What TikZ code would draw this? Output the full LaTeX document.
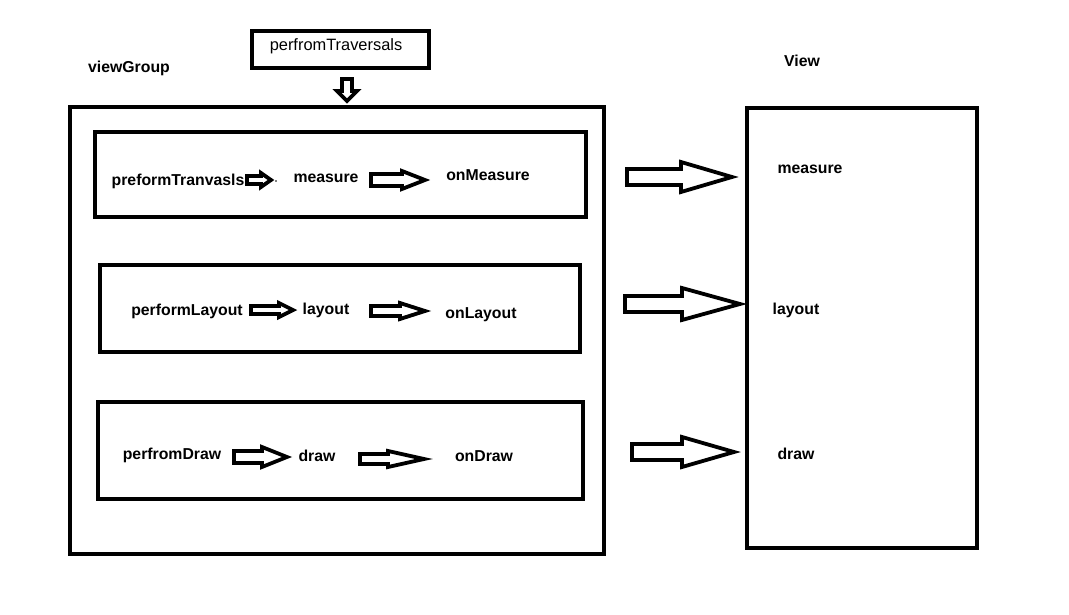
\documentclass[tikz,border=0pt]{standalone}
\usepackage{fontspec}
\setmainfont{Liberation Sans}
\begin{document}
\begin{tikzpicture}[x=1pt,y=-1pt,
  box/.style={draw,line width=3.5pt},
  lbl/.style={font=\fontsize{15.8}{18}\selectfont\bfseries,inner sep=0pt},
  arr/.style={draw,line width=3.8pt,fill=white,line join=miter}]
\useasboundingbox (0,0) rectangle (1069,615);
\newcommand\harrow[6]{\draw[arr] (#1,#3-#4) -- (#6,#3-#4) -- (#6,#3-#5) -- (#2,#3) -- (#6,#3+#5) -- (#6,#3+#4) -- (#1,#3+#4) -- cycle;}
% top box
\draw[line width=3.5pt] (252,31) rectangle (429,68);
\node[inner sep=0pt,font=\fontsize{16.4}{18}\selectfont] (pt) at (336,46) {perfromTraversals};
% down arrow
\draw[arr] (342,79) -- (352,79) -- (352,91) -- (357,91) -- (347,101) -- (337,91) -- (342,91) -- cycle;
% labels
\node[lbl] (vg) at (129,68) {viewGroup};
\node[lbl] (vw) at (802,61) {View};
% boxes
\draw[box] (70,107) rectangle (604,554);
\draw[box] (95,132) rectangle (586,217);
\draw[box] (100,265) rectangle (580,352);
\draw[box] (98,402) rectangle (583,499);
\draw[box] (747,108) rectangle (977,548);
% row 1
\node[lbl] (pt1) at (178,181) {preformTranvasls};
\harrow{247}{271}{180}{4}{7}{261}
\fill (276,181) circle (0.8);
\node[lbl] (m1) at (326,178) {measure};
\harrow{371}{425}{180}{6}{9}{402}
\node[lbl] (om) at (488,175) {onMeasure};
% row 2
\node[lbl] (pl) at (187,311) {performLayout};
\harrow{251}{293}{310}{4}{7}{279}
\node[lbl] (l1) at (326,310) {layout};
\harrow{371}{425}{311}{5}{8}{400}
\node[lbl] (ol) at (481,315) {onLayout};
% row 3
\node[lbl] (pd) at (172,455) {perfromDraw};
\harrow{234}{287}{457}{6}{10}{262}
\node[lbl] (d1) at (317,456) {draw};
\harrow{360}{424}{459}{5}{8}{388}
\node[lbl] (od) at (484,456) {onDraw};
% big arrows
\harrow{627}{732}{177}{8}{15}{681}
\harrow{625}{740}{304}{8}{16}{682}
\harrow{632}{734}{452}{8}{15}{682}
% view texts
\node[lbl] (vm) at (810,169) {measure};
\node[lbl] (vl) at (796,310) {layout};
\node[lbl] (vd) at (796,454) {draw};
\end{tikzpicture}
\end{document}
